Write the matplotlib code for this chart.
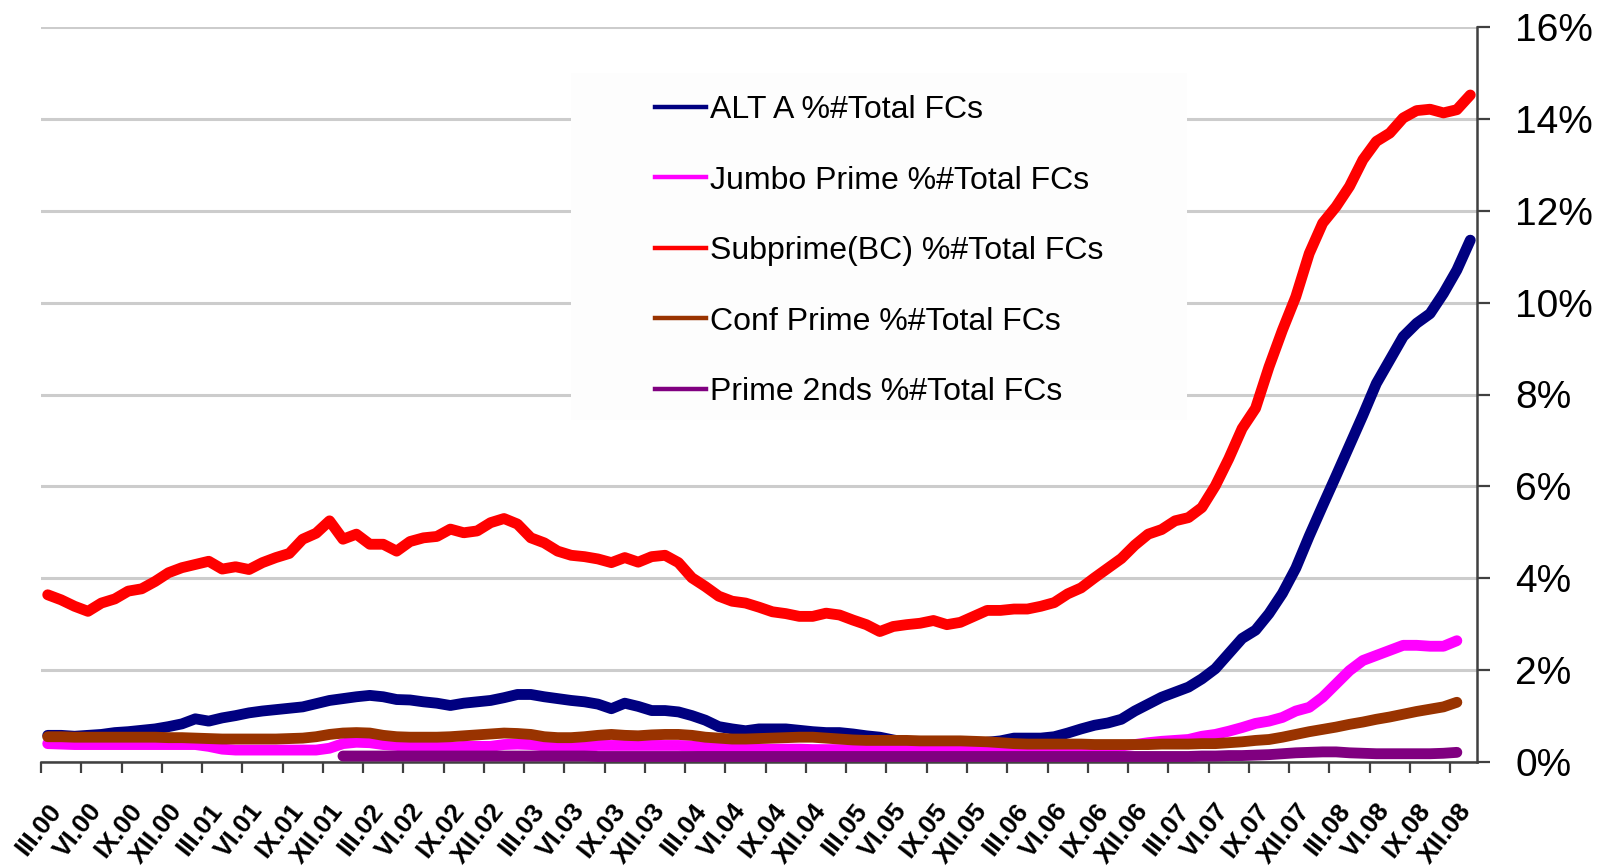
import matplotlib
matplotlib.use('Agg')
import matplotlib.pyplot as plt
import matplotlib.transforms as mtransforms
from matplotlib.lines import Line2D
from matplotlib.patches import Rectangle
import numpy as np

plt.rcParams['font.family'] = ['Liberation Sans', 'DejaVu Sans']

# quarterly axis labels, first month is March 2000
tick_labels = ['III.00', 'VI.00', 'IX.00', 'XII.00', 'III.01', 'VI.01', 'IX.01', 'XII.01',
               'III.02', 'VI.02', 'IX.02', 'XII.02', 'III.03', 'VI.03', 'IX.03', 'XII.03',
               'III.04', 'VI.04', 'IX.04', 'XII.04', 'III.05', 'VI.05', 'IX.05', 'XII.05',
               'III.06', 'VI.06', 'IX.06', 'XII.06', 'III.07', 'VI.07', 'IX.07', 'XII.07',
               'III.08', 'VI.08', 'IX.08', 'XII.08']

# share of total foreclosures, % (monthly)
alt_a = [0.58, 0.58, 0.56, 0.58, 0.60, 0.64, 0.66, 0.69, 0.72, 0.77,
         0.83, 0.94, 0.89, 0.96, 1.01, 1.07, 1.11, 1.14, 1.17, 1.20,
         1.27, 1.34, 1.38, 1.42, 1.45, 1.42, 1.36, 1.35, 1.31, 1.28,
         1.23, 1.28, 1.31, 1.34, 1.40, 1.47, 1.47, 1.42, 1.38, 1.34,
         1.31, 1.26, 1.16, 1.28, 1.21, 1.12, 1.12, 1.09, 1.01, 0.91,
         0.77, 0.72, 0.68, 0.72, 0.72, 0.72, 0.69, 0.66, 0.64, 0.64,
         0.61, 0.57, 0.54, 0.48, 0.43, 0.39, 0.36, 0.34, 0.36, 0.39,
         0.43, 0.46, 0.52, 0.52, 0.52, 0.55, 0.63, 0.72, 0.80, 0.85,
         0.93, 1.11, 1.26, 1.41, 1.52, 1.63, 1.81, 2.03, 2.36, 2.69,
         2.87, 3.23, 3.67, 4.22, 4.92, 5.58, 6.23, 6.89, 7.55, 8.24,
         8.75, 9.26, 9.55, 9.76, 10.20, 10.71, 11.36]

jumbo_prime = [0.40, 0.39, 0.38, 0.38, 0.38, 0.38, 0.38, 0.38, 0.38, 0.38,
               0.38, 0.38, 0.34, 0.28, 0.26, 0.26, 0.26, 0.26, 0.26, 0.26,
               0.26, 0.30, 0.40, 0.43, 0.42, 0.38, 0.36, 0.33, 0.32, 0.32,
               0.32, 0.34, 0.34, 0.34, 0.38, 0.39, 0.38, 0.35, 0.33, 0.33,
               0.34, 0.36, 0.36, 0.36, 0.36, 0.36, 0.36, 0.36, 0.35, 0.32,
               0.30, 0.29, 0.29, 0.28, 0.28, 0.28, 0.28, 0.27, 0.27, 0.27,
               0.27, 0.27, 0.27, 0.27, 0.27, 0.28, 0.28, 0.28, 0.28, 0.28,
               0.28, 0.28, 0.28, 0.28, 0.28, 0.29, 0.29, 0.29, 0.30, 0.31,
               0.35, 0.38, 0.42, 0.45, 0.47, 0.49, 0.56, 0.60, 0.67, 0.75,
               0.84, 0.89, 0.97, 1.11, 1.19, 1.41, 1.70, 1.99, 2.21, 2.32,
               2.43, 2.54, 2.54, 2.52, 2.52, 2.64]

subprime = [3.64, 3.53, 3.39, 3.28, 3.46, 3.55, 3.72, 3.77, 3.93, 4.12,
            4.23, 4.30, 4.37, 4.20, 4.25, 4.19, 4.34, 4.45, 4.54, 4.85,
            4.98, 5.25, 4.85, 4.96, 4.74, 4.74, 4.59, 4.80, 4.88, 4.91,
            5.07, 4.99, 5.03, 5.21, 5.30, 5.18, 4.88, 4.77, 4.59, 4.50,
            4.47, 4.42, 4.34, 4.45, 4.35, 4.47, 4.50, 4.34, 4.01, 3.82,
            3.61, 3.50, 3.46, 3.37, 3.27, 3.23, 3.17, 3.17, 3.24, 3.20,
            3.09, 2.99, 2.84, 2.95, 2.99, 3.02, 3.08, 2.99, 3.04, 3.17,
            3.30, 3.30, 3.33, 3.33, 3.39, 3.47, 3.66, 3.79, 4.01, 4.22,
            4.43, 4.72, 4.96, 5.06, 5.25, 5.32, 5.54, 6.01, 6.60, 7.26,
            7.70, 8.60, 9.40, 10.13, 11.07, 11.73, 12.09, 12.53, 13.11, 13.51,
            13.69, 14.02, 14.18, 14.21, 14.13, 14.20, 14.52]

conf_prime = [0.55, 0.55, 0.54, 0.54, 0.54, 0.54, 0.54, 0.54, 0.54, 0.53,
              0.53, 0.52, 0.51, 0.50, 0.50, 0.50, 0.50, 0.50, 0.51, 0.52,
              0.55, 0.60, 0.63, 0.64, 0.63, 0.58, 0.55, 0.54, 0.54, 0.54,
              0.55, 0.57, 0.59, 0.61, 0.63, 0.62, 0.60, 0.55, 0.53, 0.53,
              0.55, 0.58, 0.60, 0.58, 0.57, 0.59, 0.60, 0.60, 0.58, 0.54,
              0.52, 0.50, 0.50, 0.51, 0.52, 0.53, 0.54, 0.54, 0.52, 0.50,
              0.48, 0.47, 0.47, 0.47, 0.47, 0.46, 0.46, 0.46, 0.46, 0.45,
              0.44, 0.42, 0.40, 0.39, 0.39, 0.39, 0.39, 0.39, 0.38, 0.38,
              0.38, 0.38, 0.38, 0.39, 0.39, 0.39, 0.40, 0.40, 0.42, 0.44,
              0.47, 0.49, 0.54, 0.60, 0.66, 0.71, 0.76, 0.82, 0.87, 0.93,
              0.98, 1.04, 1.10, 1.15, 1.20, 1.30]

# series starts in January 2002
prime_2nds = [None] * 22 + [
    0.13, 0.13, 0.13, 0.13, 0.13, 0.13, 0.13, 0.13, 0.13, 0.13,
    0.13, 0.13, 0.13, 0.13, 0.13, 0.13, 0.13, 0.13, 0.13, 0.12,
    0.12, 0.12, 0.12, 0.12, 0.12, 0.12, 0.12, 0.12, 0.12, 0.12,
    0.12, 0.12, 0.12, 0.12, 0.12, 0.12, 0.12, 0.12, 0.12, 0.12,
    0.12, 0.12, 0.12, 0.12, 0.12, 0.12, 0.12, 0.12, 0.12, 0.12,
    0.12, 0.12, 0.12, 0.12, 0.12, 0.12, 0.12, 0.12, 0.12, 0.12,
    0.12, 0.12, 0.12, 0.12, 0.13, 0.13, 0.14, 0.14, 0.15, 0.16,
    0.18, 0.20, 0.21, 0.22, 0.22, 0.20, 0.19, 0.18, 0.18, 0.18,
    0.18, 0.18, 0.19, 0.21]

series = [
    (alt_a, '#000080', 'ALT A %#Total FCs'),
    (jumbo_prime, '#ff00ff', 'Jumbo Prime %#Total FCs'),
    (subprime, '#ff0000', 'Subprime(BC) %#Total FCs'),
    (conf_prime, '#993300', 'Conf Prime %#Total FCs'),
    (prime_2nds, '#800080', 'Prime 2nds %#Total FCs'),
]

W, H = 1607, 866
fig = plt.figure(figsize=(W / 100, H / 100), dpi=100)
ax = fig.add_axes([41 / W, 104 / H, 1436 / W, 735 / H])

for vals, color, label in series:
    y = np.array(vals, dtype=float)
    x = np.arange(len(y)) + 0.5
    ax.plot(x, y, color=color, lw=7.8, solid_capstyle='round',
            solid_joinstyle='round', zorder=3)

ax.set_xlim(0, 107)
ax.set_ylim(0, 16)

# y axis on the right
ax.yaxis.tick_right()
yt = np.arange(0, 17, 2)
ax.set_yticks(yt, [f'{v}%' for v in yt])
ax.tick_params(axis='y', direction='out', length=9.5, width=1.6,
               color='#404040', pad=18, labelsize=28)
ax.grid(axis='y', color='#cccccc', lw=2.2)
ax.set_axisbelow(True)

xt = np.arange(0, 3 * len(tick_labels), 3)
ax.set_xticks(xt, tick_labels, rotation=52, ha='right', va='center',
              rotation_mode='anchor', fontsize=19, fontweight='bold')
ax.tick_params(axis='x', direction='out', length=8, width=1.6,
               color='#404040', pad=24)
shift = mtransforms.ScaledTranslation(0.16, 0, fig.dpi_scale_trans)
for lab in ax.get_xticklabels():
    lab.set_transform(lab.get_transform() + shift)

for side in ['left', 'top']:
    ax.spines[side].set_visible(False)
for side in ['right', 'bottom']:
    ax.spines[side].set_color('#404040')
    ax.spines[side].set_linewidth(1.8)

# legend sits on a plain box that hides the gridlines behind it
ax.add_patch(Rectangle((571 / W, 1 - 420 / H), (1187 - 571) / W, (420 - 73) / H,
                       transform=fig.transFigure, facecolor='#fdfdfd',
                       edgecolor='none', zorder=1))
handles = [Line2D([], [], color=c, lw=3.2) for _, c, _ in series]
ax.legend(handles, [s[2] for s in series], loc='upper left',
          bbox_to_anchor=(639 / W, 1 - 79 / H), bbox_transform=fig.transFigure,
          frameon=False, borderpad=0, handlelength=1.6, handletextpad=0.12,
          labelspacing=1.27, prop={'size': 23})

fig.savefig('out.png', dpi=100)
